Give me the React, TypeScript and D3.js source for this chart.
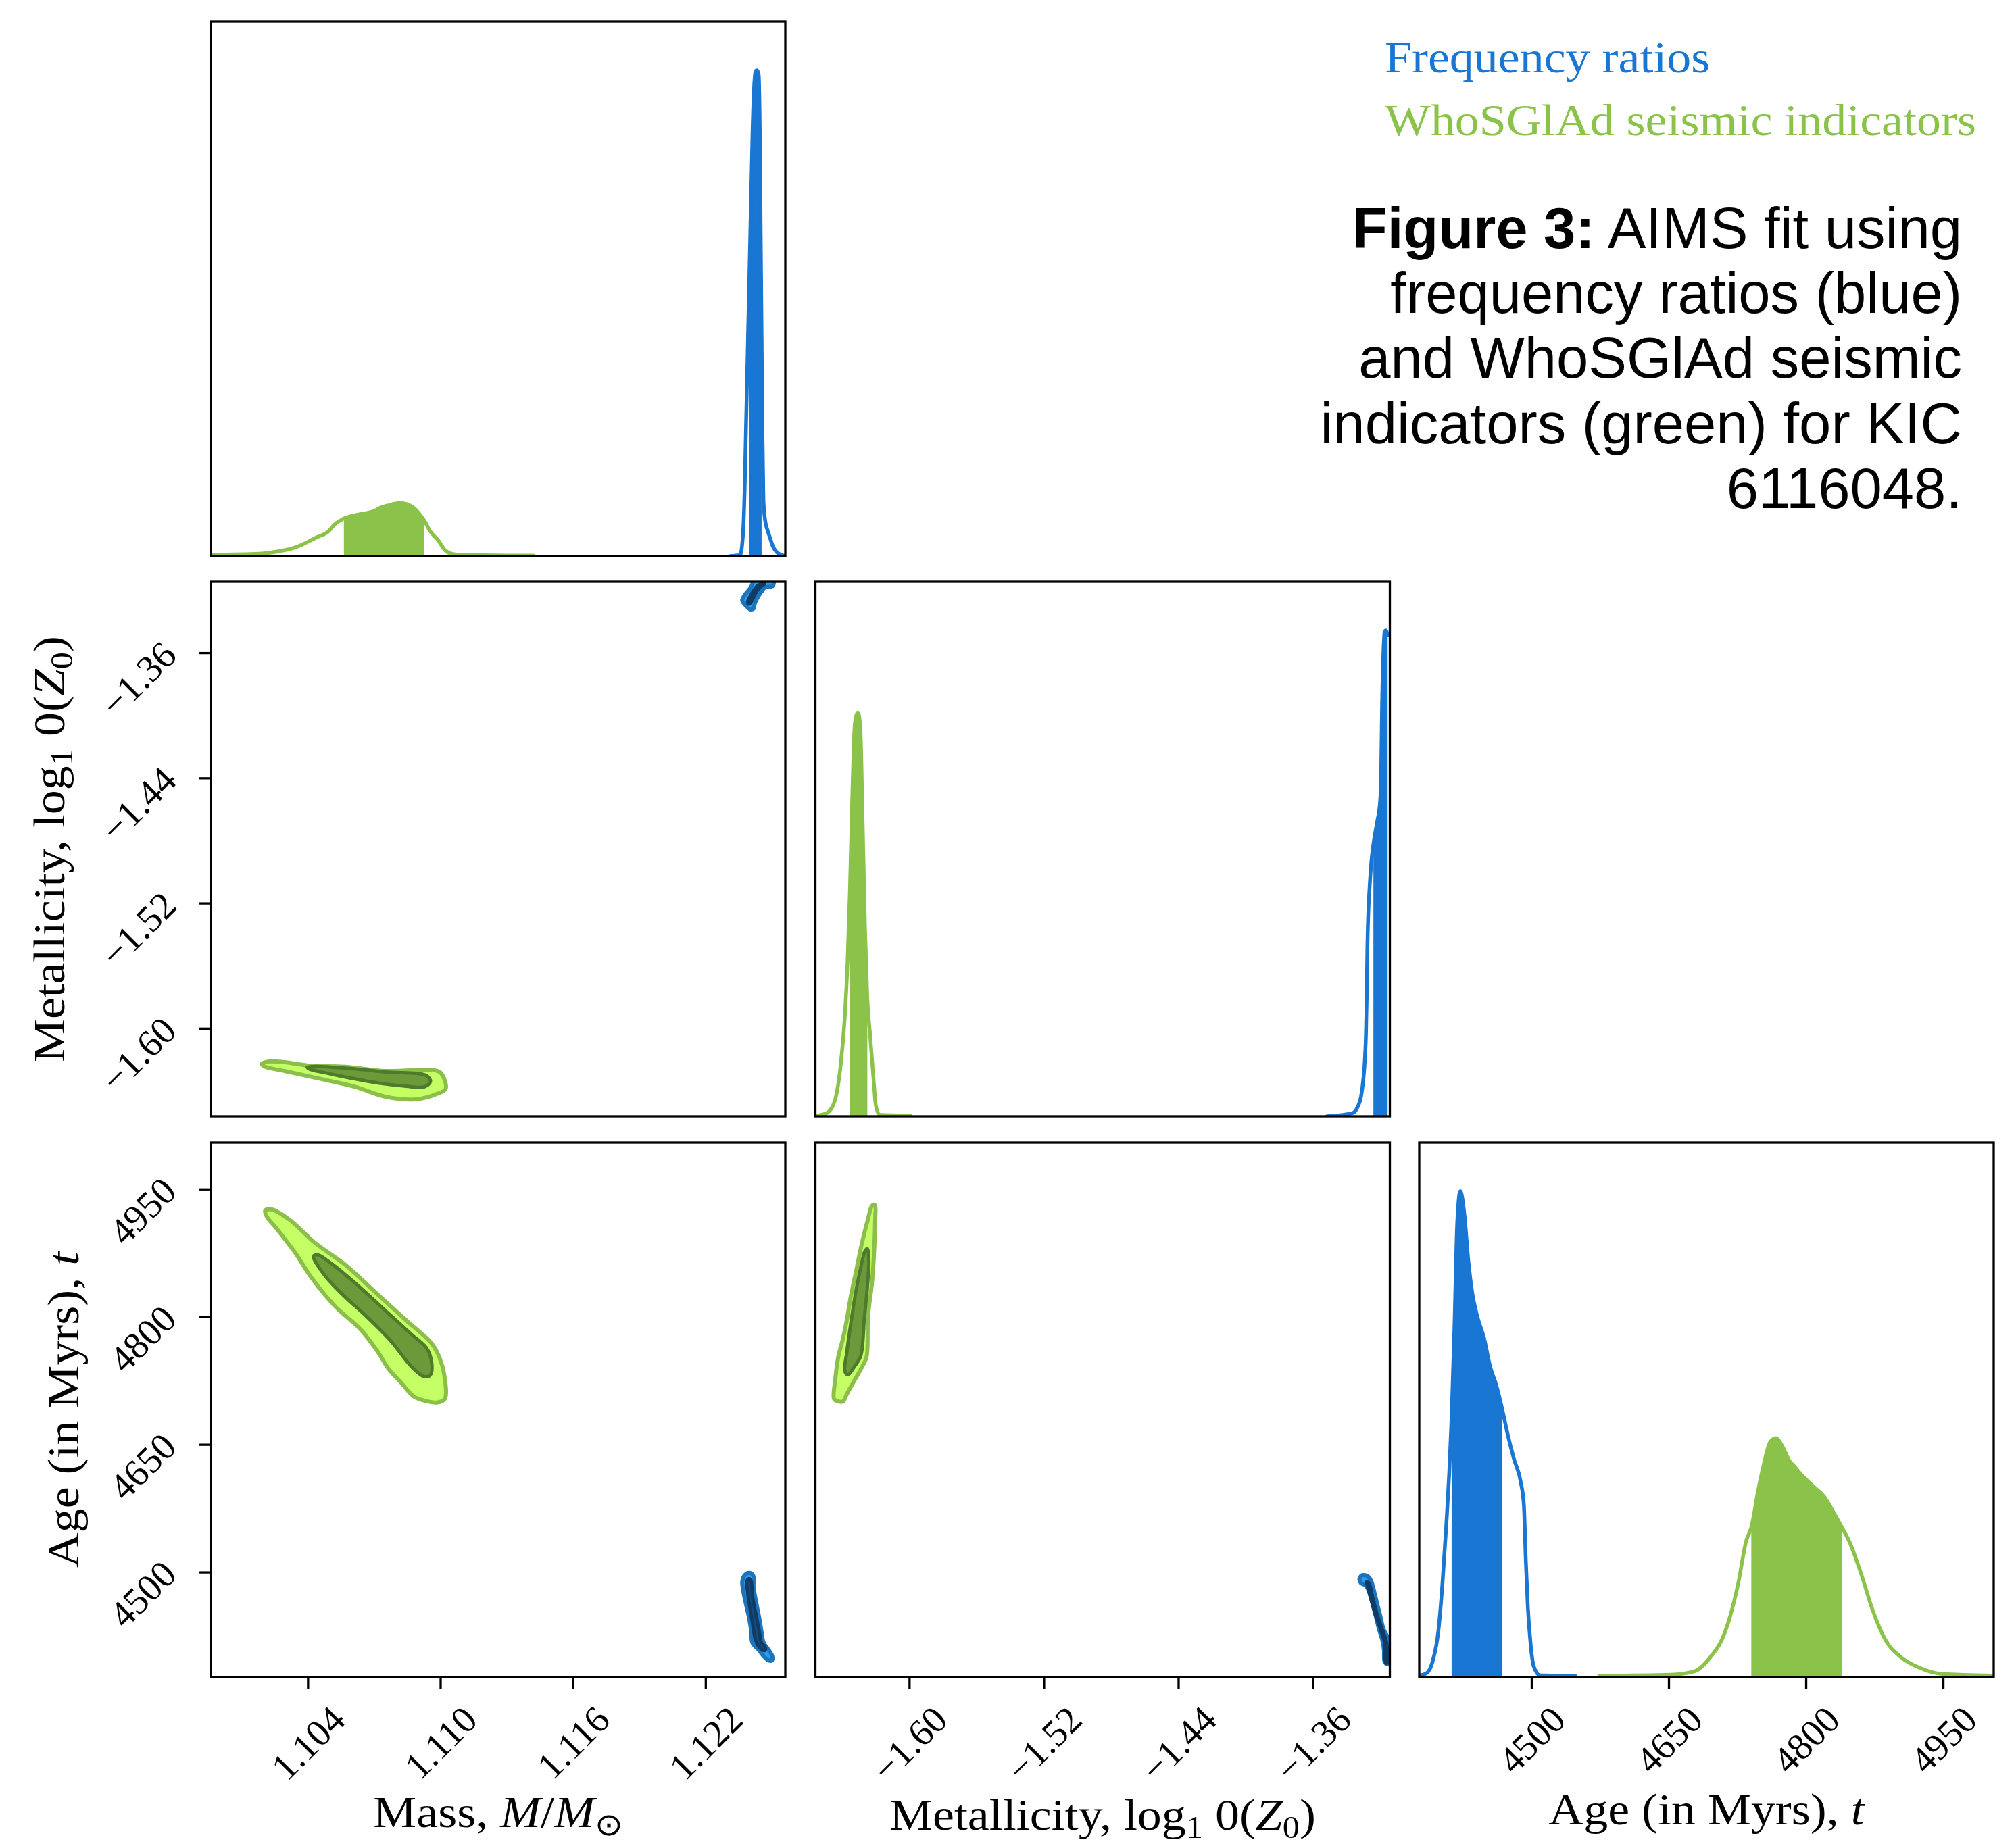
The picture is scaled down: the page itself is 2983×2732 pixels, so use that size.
import React, { useEffect, useRef } from "react";
import * as d3 from "d3";

type P = [number, number];

// ---------------- axes ----------------
const massDomain: P = [1.0996, 1.1256];
const metDomain: P = [-1.656, -1.3144];
const ageDomain: P = [4377, 5005];
const massTicks = [1.104, 1.11, 1.116, 1.122];
const metTicks = [-1.6, -1.52, -1.44, -1.36];
const ageTicks = [4500, 4650, 4800, 4950];

// ---------------- legend / caption ----------------
const seriesNames = ["Frequency ratios", "WhoSGlAd seismic indicators"];
const captionLines = [
  "AIMS fit using",
  "frequency ratios (blue)",
  "and WhoSGlAd seismic",
  "indicators (green) for KIC",
  "6116048.",
];

// ---------------- 1D marginals [value, relative density] ----------------
const massFreq: P[] = [
  [1.12309, 0], [1.123555, 0.002], [1.123688, 0.048], [1.12376, 0.139], [1.123811, 0.245],
  [1.123862, 0.35], [1.123913, 0.454], [1.123964, 0.559], [1.124015, 0.664], [1.124066, 0.77],
  [1.124118, 0.875], [1.124189, 0.966], [1.12425, 0.998], [1.124322, 1.0], [1.124394, 0.991],
  [1.124445, 0.875], [1.124486, 0.664], [1.124527, 0.454], [1.124568, 0.245], [1.124609, 0.117],
  [1.12468, 0.076], [1.124782, 0.055], [1.124885, 0.041], [1.125038, 0.02], [1.125243, 0.007],
  [1.125447, 0.002], [1.1256, 0.0],
];
const massWho: P[] = [
  [1.0996, 0.003], [1.1018, 0.005], [1.1027, 0.01], [1.1033, 0.016], [1.1037, 0.023],
  [1.1044, 0.039], [1.1049, 0.05], [1.1052, 0.065], [1.1056, 0.077], [1.1061, 0.084],
  [1.107, 0.093], [1.1073, 0.1], [1.1076, 0.104], [1.10815, 0.109], [1.1087, 0.102],
  [1.109, 0.089], [1.1093, 0.07], [1.1095, 0.053], [1.1099, 0.032], [1.1102, 0.012],
  [1.1106, 0.004], [1.1112, 0.002], [1.1142, 0.001],
];
const metFreq: P[] = [
  [-1.35166, 0], [-1.33691, 0.006], [-1.33357, 0.019], [-1.33156, 0.04], [-1.3302, 0.075],
  [-1.32927, 0.116], [-1.32859, 0.172], [-1.32819, 0.241], [-1.32778, 0.345], [-1.32726, 0.414],
  [-1.32646, 0.47], [-1.32553, 0.518], [-1.32417, 0.56], [-1.32216, 0.602], [-1.32015, 0.65],
  [-1.3195, 0.726], [-1.3191, 0.83], [-1.31842, 0.934], [-1.31749, 0.997], [-1.31681, 1.0],
  [-1.31572, 0.99],
];
const metWho: P[] = [
  [-1.656, 0.001], [-1.65, 0.005], [-1.6454, 0.023], [-1.6431, 0.052], [-1.6408, 0.111],
  [-1.6385, 0.206], [-1.6369, 0.315], [-1.6355, 0.46], [-1.6339, 0.678], [-1.6325, 0.809],
  [-1.6307, 0.831], [-1.6293, 0.802], [-1.6279, 0.605], [-1.6265, 0.387], [-1.6251, 0.241],
  [-1.6235, 0.169], [-1.6212, 0.067], [-1.6201, 0.023], [-1.6178, 0.003], [-1.5993, 0.001],
];
const ageFreq: P[] = [
  [4376.8, 0.003], [4385.0, 0.008], [4391.6, 0.032], [4398.1, 0.098], [4402.4, 0.193],
  [4406.7, 0.317], [4409.8, 0.421], [4412.4, 0.535], [4415.4, 0.715], [4418.5, 0.934],
  [4421.9, 1.0], [4426.3, 0.953], [4430.6, 0.858], [4434.9, 0.791], [4440.2, 0.744],
  [4448.0, 0.696], [4454.5, 0.639], [4461.0, 0.602], [4467.5, 0.553], [4474.0, 0.497],
  [4480.5, 0.449], [4487.9, 0.402], [4491.4, 0.354], [4493.5, 0.24], [4495.7, 0.145],
  [4498.7, 0.069], [4502.2, 0.022], [4508.7, 0.004], [4547.8, 0.002],
];
const ageWho: P[] = [
  [4573.8, 0.003], [4651.9, 0.005], [4678.0, 0.012], [4695.3, 0.041], [4708.3, 0.079],
  [4717.0, 0.126], [4725.7, 0.193], [4734.4, 0.28], [4740.0, 0.308], [4747.4, 0.383],
  [4753.9, 0.44], [4760.4, 0.483], [4766.9, 0.492], [4773.4, 0.477], [4782.1, 0.444],
  [4786.4, 0.435], [4795.1, 0.416], [4808.1, 0.392], [4819.0, 0.373], [4829.8, 0.34],
  [4839.4, 0.307], [4847.2, 0.279], [4860.2, 0.212], [4873.2, 0.135], [4886.2, 0.078],
  [4903.6, 0.041], [4925.3, 0.018], [4947.0, 0.007], [5004.7, 0.003],
];
const massFreqCI: P = [1.123964, 1.124527];
const massWhoCI: P = [1.10562, 1.10926];
const metFreqCI: P = [-1.32417, -1.31572];
const metWhoCI: P = [-1.6355, -1.6251];
const ageFreqCI: P = [4412.4, 4467.9];
const ageWhoCI: P = [4740.0, 4839.4];

// ---------------- 2D credible contours ----------------
const massMetWhoOuter: P[] = [
  [1.1019, -1.62255], [1.10224, -1.62097], [1.10293, -1.62142], [1.10408, -1.62368],
  [1.10569, -1.62436], [1.10752, -1.62707], [1.10959, -1.6264], [1.11, -1.62821],
  [1.11023, -1.63838], [1.10982, -1.64177], [1.1089, -1.64516], [1.10752, -1.64358],
  [1.10615, -1.63725], [1.10477, -1.63273], [1.10293, -1.62707], [1.10201, -1.62413],
];
const massMetWhoInner: P[] = [
  [1.10396, -1.62481], [1.10431, -1.62413], [1.10592, -1.62549], [1.10752, -1.62775],
  [1.10936, -1.63001], [1.10954, -1.63385], [1.10925, -1.63725], [1.10844, -1.6368],
  [1.10729, -1.63499], [1.10592, -1.6316], [1.10477, -1.62821], [1.10408, -1.62594],
];
const massMetFreqOuter: P[] = [
  [1.12365, -1.32579], [1.1238, -1.32219], [1.12401, -1.3186], [1.12411, -1.3157],
  [1.12415, -1.3114], [1.12508, -1.3114], [1.12508, -1.31527], [1.12503, -1.31713],
  [1.12467, -1.31817], [1.12452, -1.32076], [1.12432, -1.32509], [1.12421, -1.32869],
  [1.12416, -1.33159], [1.12401, -1.33202], [1.1238, -1.32942], [1.12367, -1.32726],
];
const massMetFreqInner: P[] = [
  [1.12389, -1.32769], [1.12401, -1.32362], [1.12416, -1.32002], [1.12432, -1.31713],
  [1.12452, -1.3157], [1.12467, -1.3157], [1.12452, -1.31713], [1.12437, -1.3193],
  [1.12421, -1.32293], [1.12406, -1.32726], [1.12396, -1.32869],
];
const massAgeWhoOuter: P[] = [
  [1.10206, 4925.3], [1.10236, 4926.4], [1.10316, 4914.4], [1.10431, 4887.3],
  [1.10569, 4861.3], [1.10706, 4828.8], [1.10844, 4796.2], [1.10959, 4769.1],
  [1.10994, 4752.8], [1.11017, 4731.1], [1.11019, 4704.0], [1.10987, 4699.7],
  [1.10936, 4701.3], [1.10879, 4706.7], [1.10821, 4723.0], [1.10764, 4739.3],
  [1.10718, 4758.3], [1.10638, 4785.4], [1.10523, 4812.5], [1.10419, 4845.0],
  [1.10339, 4876.5], [1.10259, 4903.6], [1.10213, 4918.2],
];
const massAgeWhoInner: P[] = [
  [1.10424, 4871.1], [1.10442, 4873.2], [1.105, 4864.0], [1.10615, 4839.6],
  [1.10752, 4807.1], [1.10867, 4779.9], [1.10936, 4763.7], [1.10959, 4747.4],
  [1.10954, 4732.2], [1.10925, 4730.1], [1.10867, 4742.0], [1.10775, 4771.8],
  [1.10661, 4801.6], [1.10569, 4823.3], [1.10488, 4845.0], [1.10442, 4861.3],
];
const massAgeFreqOuter: P[] = [
  [1.12365, 4488.8], [1.12376, 4496.7], [1.12399, 4499.4], [1.12416, 4495.4],
  [1.12416, 4483.5], [1.12426, 4467.6], [1.12442, 4446.5], [1.12452, 4430.7],
  [1.12462, 4417.4], [1.12483, 4409.5], [1.12501, 4401.6], [1.12498, 4396.3],
  [1.12483, 4396.8], [1.12462, 4401.6], [1.12442, 4408.2], [1.12411, 4417.4],
  [1.12406, 4430.7], [1.12396, 4446.5], [1.1238, 4465.0], [1.12368, 4480.8],
];
const massAgeFreqInner: P[] = [
  [1.12386, 4490.1], [1.12396, 4492.8], [1.12406, 4488.8], [1.12411, 4472.9],
  [1.12426, 4451.8], [1.12442, 4430.7], [1.12452, 4417.4], [1.1247, 4412.1],
  [1.12467, 4408.2], [1.12447, 4410.8], [1.12426, 4420.0], [1.12411, 4441.2],
  [1.12399, 4459.7], [1.12389, 4478.2],
];
const metAgeWhoOuter: P[] = [
  [-1.64494, 4704.0], [-1.64425, 4725.7], [-1.64241, 4752.8], [-1.63965, 4774.5],
  [-1.63734, 4796.2], [-1.63504, 4823.3], [-1.63158, 4855.9], [-1.62813, 4888.4],
  [-1.62467, 4915.5], [-1.62237, 4930.7], [-1.62076, 4931.8], [-1.62053, 4910.1],
  [-1.62122, 4872.1], [-1.62237, 4839.6], [-1.62467, 4801.6], [-1.6256, 4752.8],
  [-1.62813, 4742.0], [-1.63274, 4725.7], [-1.63734, 4709.4], [-1.63965, 4700.8],
  [-1.6431, 4701.3],
];
const metAgeWhoInner: P[] = [
  [-1.63849, 4736.6], [-1.63734, 4758.3], [-1.63504, 4791.0], [-1.63205, 4828.8],
  [-1.62928, 4855.9], [-1.62652, 4877.6], [-1.62513, 4880.3], [-1.62421, 4866.7],
  [-1.62513, 4834.2], [-1.62698, 4796.2], [-1.62813, 4763.7], [-1.62928, 4752.8],
  [-1.63274, 4742.0], [-1.63665, 4732.2],
];
const metAgeFreqOuter: P[] = [
  [-1.3322, 4494.1], [-1.33087, 4496.7], [-1.32754, 4495.4], [-1.32553, 4490.1],
  [-1.32417, 4480.9], [-1.32216, 4465.0], [-1.32015, 4449.2], [-1.31814, 4433.3],
  [-1.31613, 4425.4], [-1.31412, 4414.8], [-1.31348, 4393.6], [-1.31613, 4392.3],
  [-1.3175, 4395.0], [-1.3179, 4409.5], [-1.31882, 4420.0], [-1.32083, 4433.3],
  [-1.32284, 4449.2], [-1.32485, 4465.0], [-1.32686, 4478.2], [-1.32887, 4484.8],
  [-1.33156, 4487.5], [-1.33248, 4491.4],
];
const metAgeFreqInner: P[] = [
  [-1.3282, 4488.8], [-1.32686, 4487.5], [-1.32485, 4472.5], [-1.32216, 4451.8],
  [-1.31949, 4435.9], [-1.31708, 4422.7], [-1.31613, 4414.8], [-1.31573, 4393.6],
  [-1.31681, 4393.6], [-1.3175, 4417.4], [-1.31949, 4430.7], [-1.32284, 4449.2],
  [-1.32553, 4467.6], [-1.32754, 4482.2],
];

// ---------------- styles ----------------
const W = 2983;
const H = 2732;
const PW = 850;
const PH = 791;
const COLX = [312, 1206.5, 2100];
const ROWY = [32, 861, 1691];
const BLUE = "#1976D2";
const GREEN = "#8BC34A";
const SERIF = '"Liberation Serif", "Times New Roman", serif';
const SANS = '"Liberation Sans", Arial, sans-serif';
const TFS = 56;
const LFS = 66;
const SX = 1.09;
const TICK = 18;
const FRAME = 3.3;
const LW = 5.5;

const greenC = { oFill: "#C5FF66", oStroke: "#8CBF4A", iFill: "#6C9A3A", iStroke: "#4E7A2B" };
const blueC = { oFill: "#2D9CF0", oStroke: "#1C74BA", iFill: "#184C80", iStroke: "#0F3C66" };

type Part = { t: string; i?: boolean; sub?: boolean; b?: boolean };

export default function App() {
  const ref = useRef<SVGSVGElement>(null);

  useEffect(() => {
    const svg = d3.select(ref.current as SVGSVGElement);
    svg.selectAll("*").remove();
    svg.append("rect").attr("width", W).attr("height", H).attr("fill", "#fff");
    const defs = svg.append("defs");
    let cid = 0;

    const panel = (col: number, row: number) => {
      const x0 = COLX[col];
      const y0 = ROWY[row];
      const id = `clip${cid++}`;
      defs.append("clipPath").attr("id", id).append("rect")
        .attr("x", x0).attr("y", y0).attr("width", PW).attr("height", PH);
      const inner = svg.append("g").attr("clip-path", `url(#${id})`);
      return { x0, y0, inner };
    };
    const frame = (p: { x0: number; y0: number }) => {
      svg.append("rect").attr("x", p.x0).attr("y", p.y0).attr("width", PW).attr("height", PH)
        .attr("fill", "none").attr("stroke", "#000").attr("stroke-width", FRAME);
    };

    const ciSlice = (data: P[], ci: P): P[] => {
      const interp = (v: number): P => {
        for (let k = 0; k < data.length - 1; k++) {
          const a = data[k], b = data[k + 1];
          if (v >= a[0] && v <= b[0]) {
            const f = (v - a[0]) / (b[0] - a[0] || 1);
            return [v, a[1] + f * (b[1] - a[1])];
          }
        }
        return [v, 0];
      };
      const mid = data.filter((d) => d[0] > ci[0] && d[0] < ci[1]);
      return [interp(ci[0]), ...mid, interp(ci[1])];
    };

    const marginal = (
      p: { x0: number; y0: number; inner: any },
      dom: P,
      series: { data: P[]; ci: P; color: string }[]
    ) => {
      const x = d3.scaleLinear().domain(dom).range([p.x0, p.x0 + PW]);
      const ymax = 1.1 * (d3.max(series.flatMap((s) => s.data.map((d) => d[1]))) as number);
      const y = d3.scaleLinear().domain([0, ymax]).range([p.y0 + PH, p.y0]);
      const area = d3.area<P>().x((d) => x(d[0])).y0(y(0)).y1((d) => y(d[1])).curve(d3.curveMonotoneX);
      const line = d3.line<P>().x((d) => x(d[0])).y((d) => y(d[1])).curve(d3.curveMonotoneX);
      series.forEach((s) => {
        p.inner.append("path").attr("d", area(ciSlice(s.data, s.ci))).attr("fill", s.color);
        p.inner.append("path").attr("d", line(s.data)).attr("fill", "none")
          .attr("stroke", s.color).attr("stroke-width", LW).attr("stroke-linejoin", "round")
          .attr("stroke-linecap", "round");
      });
    };

    const contours = (
      p: { x0: number; y0: number; inner: any },
      xd: P, yd: P,
      sets: { outer: P[]; inner: P[]; c: typeof greenC }[]
    ) => {
      const x = d3.scaleLinear().domain(xd).range([p.x0, p.x0 + PW]);
      const y = d3.scaleLinear().domain(yd).range([p.y0 + PH, p.y0]);
      const line = d3.line<P>().x((d) => x(d[0])).y((d) => y(d[1])).curve(d3.curveCatmullRomClosed.alpha(0.5));
      sets.forEach((s) => {
        p.inner.append("path").attr("d", line(s.outer)).attr("fill", s.c.oFill)
          .attr("stroke", s.c.oStroke).attr("stroke-width", 6).attr("stroke-linejoin", "round");
        p.inner.append("path").attr("d", line(s.inner)).attr("fill", s.c.iFill)
          .attr("stroke", s.c.iStroke).attr("stroke-width", 5).attr("stroke-linejoin", "round");
      });
    };

    const xTicks = (p: { x0: number; y0: number }, dom: P, ticks: number[], fmt: (n: number) => string) => {
      const x = d3.scaleLinear().domain(dom).range([p.x0, p.x0 + PW]);
      const yb = p.y0 + PH;
      ticks.forEach((t) => {
        const tx = x(t);
        svg.append("line").attr("x1", tx).attr("x2", tx).attr("y1", yb).attr("y2", yb + TICK)
          .attr("stroke", "#000").attr("stroke-width", FRAME);
        const txt = svg.append("text").text(fmt(t)).attr("font-family", SERIF)
          .attr("font-size", TFS).attr("text-anchor", "middle").attr("dominant-baseline", "central");
        const w = (txt.node() as SVGTextElement).getComputedTextLength();
        const h = 0.66 * TFS;
        const cy = yb + 40 + (w + h) / (2 * Math.SQRT2);
        txt.attr("transform", `translate(${tx},${cy}) rotate(-45)`);
      });
    };
    const yTicks = (p: { x0: number; y0: number }, dom: P, ticks: number[], fmt: (n: number) => string) => {
      const y = d3.scaleLinear().domain(dom).range([p.y0 + PH, p.y0]);
      ticks.forEach((t) => {
        const ty = y(t);
        svg.append("line").attr("x1", p.x0 - TICK).attr("x2", p.x0).attr("y1", ty).attr("y2", ty)
          .attr("stroke", "#000").attr("stroke-width", FRAME);
        svg.append("text").text(fmt(t)).attr("font-family", SERIF).attr("font-size", TFS)
          .attr("text-anchor", "end")
          .attr("transform", `translate(${p.x0 - 48},${ty + 6}) rotate(-45)`);
      });
    };

    const richText = (x: number, y: number, rot: number, parts: Part[]) => {
      const g = svg.append("g").attr("transform", `translate(${x},${y}) rotate(${rot}) scale(${SX},1)`);
      const t = g.append("text").attr("text-anchor", "middle").attr("font-family", SERIF)
        .attr("font-size", LFS).style("white-space", "pre").attr("fill", "#000");
      let shift = 0;
      parts.forEach((pt) => {
        const ts = t.append("tspan").text(pt.t);
        if (pt.i) ts.attr("font-style", "italic");
        const target = pt.sub ? LFS * 0.18 : 0;
        if (target !== shift) { ts.attr("dy", target - shift); shift = target; }
        if (pt.sub) ts.attr("font-size", LFS * 0.7);
      });
    };

    // ---- Row 1: mass marginal
    const p00 = panel(0, 0);
    marginal(p00, massDomain, [
      { data: massWho, ci: massWhoCI, color: GREEN },
      { data: massFreq, ci: massFreqCI, color: BLUE },
    ]);
    frame(p00);

    // ---- Row 2
    const p01 = panel(0, 1);
    contours(p01, massDomain, metDomain, [
      { outer: massMetWhoOuter, inner: massMetWhoInner, c: greenC },
      { outer: massMetFreqOuter, inner: massMetFreqInner, c: blueC },
    ]);
    frame(p01);
    yTicks(p01, metDomain, metTicks, d3.format(".2f"));

    const p11 = panel(1, 1);
    marginal(p11, metDomain, [
      { data: metWho, ci: metWhoCI, color: GREEN },
      { data: metFreq, ci: metFreqCI, color: BLUE },
    ]);
    frame(p11);

    // ---- Row 3
    const p02 = panel(0, 2);
    contours(p02, massDomain, ageDomain, [
      { outer: massAgeWhoOuter, inner: massAgeWhoInner, c: greenC },
      { outer: massAgeFreqOuter, inner: massAgeFreqInner, c: blueC },
    ]);
    frame(p02);
    yTicks(p02, ageDomain, ageTicks, d3.format("d"));
    xTicks(p02, massDomain, massTicks, d3.format(".3f"));

    const p12 = panel(1, 2);
    contours(p12, metDomain, ageDomain, [
      { outer: metAgeWhoOuter, inner: metAgeWhoInner, c: greenC },
      { outer: metAgeFreqOuter, inner: metAgeFreqInner, c: blueC },
    ]);
    frame(p12);
    xTicks(p12, metDomain, metTicks, d3.format(".2f"));

    const p22 = panel(2, 2);
    marginal(p22, ageDomain, [
      { data: ageFreq, ci: ageFreqCI, color: BLUE },
      { data: ageWho, ci: ageWhoCI, color: GREEN },
    ]);
    frame(p22);
    xTicks(p22, ageDomain, ageTicks, d3.format("d"));

    // ---- axis labels
    const massLbl: Part[] = [{ t: "Mass, " }, { t: "M", i: true }, { t: "/" }, { t: "M", i: true }, { t: "\u2299", sub: true }];
    const metLbl: Part[] = [{ t: "Metallicity, log" }, { t: "1", sub: true }, { t: " 0(" }, { t: "Z", i: true }, { t: "0", sub: true }, { t: ")" }];
    const ageLbl: Part[] = [{ t: "Age (in Myrs), " }, { t: "t", i: true }];
    richText(COLX[0] + PW / 2, 2704, 0, massLbl);
    richText(COLX[1] + PW / 2, 2708, 0, metLbl);
    richText(COLX[2] + PW / 2, 2700, 0, ageLbl);
    richText(95, ROWY[1] + PH / 2, -90, metLbl);
    richText(116, ROWY[2] + PH / 2, -90, ageLbl);

    // ---- legend
    [BLUE, GREEN].forEach((c, k) => {
      svg.append("g").attr("transform", `translate(2049,${107 + k * 93}) scale(${SX},1)`)
        .append("text").text(seriesNames[k]).attr("font-family", SERIF).attr("font-size", LFS)
        .attr("fill", c);
    });

    // ---- caption
    const cap = svg.append("text").attr("font-family", SANS).attr("font-size", 85)
      .attr("text-anchor", "end").attr("fill", "#000").style("white-space", "pre");
    captionLines.forEach((ln, k) => {
      const t = cap.append("tspan").attr("x", 2903).attr("y", 367 + k * 96.2);
      if (k === 0) {
        t.append("tspan").text("Figure 3:").attr("font-weight", "bold");
        t.append("tspan").text(" " + ln);
      } else {
        t.text(ln);
      }
    });
  }, []);

  return (
    <svg
      ref={ref}
      width={W}
      height={H}
      style={{ position: "absolute", left: 0, top: 0, display: "block" }}
    />
  );
}
